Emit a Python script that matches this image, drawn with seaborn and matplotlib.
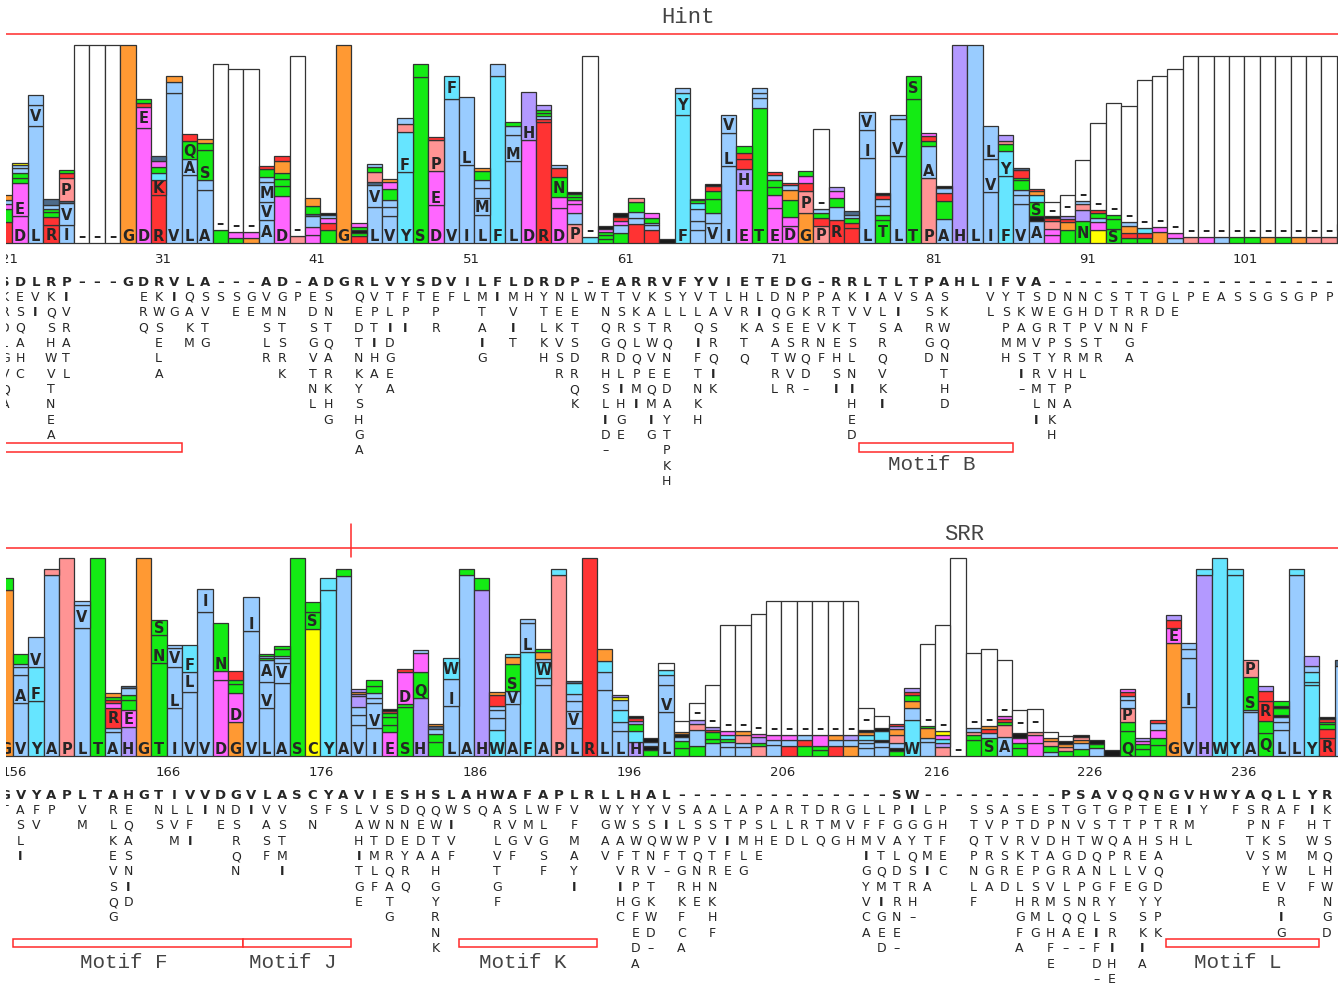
import pandas as pd
import matplotlib
matplotlib.use("Agg")
import matplotlib.pyplot as plt
from matplotlib.patches import Rectangle
import seaborn as sns

sns.set_style("white")
plt.rcParams['font.family'] = ['DejaVu Sans']

# colour class of each stack segment
residue_colors = {
    'b': '#99CCFF',  # A V L I M
    'c': '#66E5FF',  # F Y W
    'g': '#14EB14',  # S T N Q
    'm': '#FF66FF',  # D E
    'r': '#FF3333',  # K R
    'o': '#FF9933',  # G
    'p': '#FF9494',  # P
    'h': '#B399FF',  # H
    'y': '#FFFF00',  # C
    'k': '#1A1A1A',
    'n': '#4D6B8A',
    'w': '#FFFFFF',  # gap
}

# ---------------- top block: positions 21-108 ----------------
top_start = 21
top_ticks = [21, 31, 41, 51, 61, 71, 81, 91, 101]
top_consensus = "SDLRP---GDRVLA---AD-ADGRLVYSDVILFLDRDP-EARRVFYVIETEDG-RRLTLTPAHLIFVA-------------------"
top_alts = [
    "KRDLGVQA", "ESQAHC", "VI", "KQSHWVTNEA", "IVRATL", "", "", "", "", "ERQ",
    "KWSELA", "IG", "QAKM", "SVTG", "S", "SE", "GE", "VMSLR", "GNTSRK", "P",
    "EDSGVTNL", "SNTQARKHG", "", "QEDTNKYSHGA", "VPTIHA", "TLIDGEA", "FPI", "T", "EPR", "F",
    "L", "MTAIG", "I", "MVIT", "H", "YTLKH", "NEKVSR", "LETSDRQK", "W", "TNQGRHSLID-",
    "TSRQDLIHGE", "VKSLQPMI", "KATWVEQMIG", "SLRQNEDAYTPKH", "YL", "VLQIFTNKH", "TASRQIK", "LV", "HRKTQ", "LIA",
    "DQSATRL", "NGESWVR", "PKERQD-", "PRVNF", "ATKEHSI", "KVTSLNIHED", "IV", "ALSRQVKI", "VIA", "S",
    "ASRGD", "SKWQNTHD", "", "", "VL", "YSPMH", "TKAMSI-", "SWGVTRMLI", "DERPYVTNKH", "NGTSRHPA",
    "NHPSML", "CDVTR", "STN", "TRNGA", "TRF", "GD", "LE", "P", "E", "A",
    "S", "S", "G", "S", "G", "P", "P",
]
top_stacks = [
    "r21 g13 m5 b4 o5", "m27:D m33:E g5 g5 b5 b3 y2", "b117:L b21:V b10", "r18:R r8 g5 g3 b4 n6",
    "b18:I b22:V n2 p23:P r5 g3", "w198:-", "w198:-", "w198:-", "o198:G", "m115:D m21:E r4 g4",
    "r48:R r15:K c7 g6 m6 n5", "b150:V b11 o6", "b68:L b16:A g18:Q r7", "b53:A b10 g30:S g7 o4",
    "g13 w166:-", "g5 m6 w163:-", "o5 m6 w163:-", "b23:A b18:V b20:M b5 g8 r3", "m47:D g10 g7 g6 o12 r5",
    "p7 w180:-", "m8 m8 b11 n2 g8 o8", "g13 r7 m5 b3 k2", "o198:G", "r7 g3 k3 g3 m4",
    "b36:L b22:V n3 p10 g5 b3", "b27:V b9 b7 g11 m7 o3", "c71:Y c40:F p8 b6", "g166:S g13",
    "m38:D m34:E p31:P r3", "b144:V c23:F", "b78:I b68:L", "b28:L b17:M b10 b8 g9 o3", "c167:F b12",
    "b82:L b26:M b9 g4", "m103:D h48:H", "r121:R r3 b3 g3 g3 h5", "m35:D m11 g20:N r9 b3",
    "p19:P b11 m9 m4 g3 g3 k2", "c6 w181:-", "g4 g4 g3 m3 k3", "g10 b8 m4 r4 k4", "r19 b6 b6 g10 p4",
    "r13 b5 b2 g5 m5", "k4", "c128:F c22:Y b5", "b13 b9 b12 c6 g3 k1", "b20:V b10 g14 g8 r5 k2",
    "b77:I b33:L b18:V", "m53:E h21:H r10 r6 g7", "g135:T b10 b5 b5", "m35:E m13 g8 g7 b5 r3",
    "m17:D m9 g17 o10 b5 r2", "o30:G p22:P r8 m7 g5", "p17:P r8 g5 b4 w80:-", "r23:R b13 g9 m7 h4",
    "r15 r5 g5 b3 n4", "b85:L b28:I b18:V", "g23:T g5 b9 b7 r4 k2", "b87:L b37:V b4", "g144:T g23:S",
    "p65:P b32:A g5 r5 m3", "b24:A g18 r8 b5 k2", "h198:H", "b198:L", "b51:I b33:V b33:L",
    "c67:F c25:Y g7 p3 h6", "b39:V b9 b5 g10 g2 r8 n2", "b22:A k5 g14:S c7 o4 r2",
    "m8 m6 p8 r3 k2 w14:-", "g13 o8 r3 h3 w21:-", "g22:N h11 p6 b3 w41:-", "y13 m8 b4 g5 r3 w87:-",
    "g14:S g10 g4 w112:-", "g5 r5 o7 b4 w116:-", "g5 r5 c5 w148:-", "o11 m5 w151:-", "b5 m5 w164:-",
    "p6 w181:-", "m6 w181:-", "b6 w181:-", "g6 w181:-", "g6 w181:-", "o6 w181:-", "g6 w181:-",
    "o6 w181:-", "p6 w181:-", "p6 w181:-", "g13 k6",
]
top_motifs = [("", 15.5, 32.5), ("Motif B", 76.5, 86.5)]
top_regions = [("Hint", 65.4)]

# ---------------- bottom block: positions 156-243 ----------------
bottom_start = 156
bottom_ticks = [156, 166, 176, 186, 196, 206, 216, 226, 236]
bottom_consensus = "GVYAPLTAHGTIVVDGVLASCYAVIESHSLAHWAFAPLRLLHAL--------------SW---------PSAVQQNGVHWYAQLLYR"
bottom_alts = [
    "T", "ASLI", "FV", "P", "", "VM", "", "RLKEVSQG", "EQASNID", "",
    "NS", "LVM", "LFI", "I", "NE", "DSRQN", "I", "VASF", "VSTMI", "",
    "SN", "F", "S", "LAHITGE", "VWTMLF", "SNDRQATG", "DNEYRQ", "QEDA", "QWTAHGYRNK", "WIVF",
    "S", "Q", "ARLVTGF", "SVGF", "LMV", "WLGSF", "F", "VFMAYI", "", "WGAV",
    "YWAFVIHC", "YSWTRPGFEDA", "YSQNVTKWD-", "VIWF-", "SLWTGRKFCA", "ASPQNHE", "ASVTRNKHF", "LTIFE", "APMLG", "PSHE",
    "ALE", "RLD", "TRL", "DTQ", "RMG", "GVH", "LFMIGYVCA", "LFVTQMIGED", "PGALDTRNE-", "IGYQSRH-",
    "LGTMIA", "PHFEC", "", "STQPNLF", "SVTRGA", "APVSRD", "STRKELHGFA", "EDVTPSRMG", "SPDAGVMLHFE", "TNHGRLSQA-",
    "GVTDAPNQE-", "TSWQNGRLIFD-", "GTQPLFYSRIHE", "PTARLE", "TPHEVGYSKIA", "ETSAQDYPK", "ERH", "IML", "Y", "",
    "F", "SPTV", "RNKSYE", "AFSMWVRIG", "F", "IHWMLF", "KTSQHWNGD",
]
bottom_stacks = [
    "o166:G g12", "b53:V b28:A b8 b3 g10", "c55:Y c34:F b30:V", "b181:A p6", "p198:P", "b128:L b23:V b4",
    "g198:T", "b24:A b4 r20:R m5 r3 g3 o4", "h29:H m17:E g10 g5 b7 n2", "o198:G", "g93:T g28:N g15:S",
    "b48:I b41:L b19:V b3", "b64:V b20:L c27:F", "b144:V b23:I", "m76:D m9 g48:N", "o34:G m29:D g9 g4 r9",
    "b125:V b34:I", "b48:L b26:V b22:A g2 b2 g2", "b73:A b20:V b5 b2 g7 g3", "g198:S", "y127:C g17:S g10",
    "c166:Y c12", "b180:A g7", "b31:V b10 b8 h11 h2 o2 h3", "b28:I b25:V b5 b5 g7 g6", "m24:E g7 g8 g4 r2 k2",
    "g49:S g3 m32:D r3", "h58:H g26:Q m19 b3", "g14 g8 b5 n3 o2", "b50:L b27:I c21:W", "b181:A g6",
    "h166:H g12", "c26:W b12 b8 b4 r11 o3", "b52:A b13:V g27:S o7 c3", "c104:F b29:L b4",
    "b71:A b7 c16:W b3 o7 g3", "p181:P c6", "b28:L b17:V b10 b7 c11 n2", "r198:R", "b66:L b18 c11 o12",
    "b25:L b9 c12 b10 y3 h2", "h14:H c11 g7 h3 r3 k2", "g6 k4 b4 k4", "b44:L b27:V b10 c5 w7",
    "g8 g7 b4 k3 o2 w11", "g10 b16 p6 h4 w17:-", "b13 g4 g7 r2 h3 w42:-", "b9 b5 g3 c4 m4 w106:-",
    "b9 b4 p8 o4 w106:-", "p10 g3 h6 m3 w120:-", "b11 b5 m5 w134:-", "r10 b6 m5 w134:-", "g10 r6 b5 w134:-",
    "g6 g4 m11 w134:-", "r10 b6 o5 w134:-", "o10 b6 h5 w134:-", "b8 b5 b3 c5 o3 k2 w22:-",
    "b9 b5 k2 c9 k3 w12", "g5 k3 b5 p8 o6 h3 r2", "c36:W b12 o7 g6 r3 h4", "b14 b4 o10 g2 w82:-",
    "p9 h4 c4 m4 y4 w106:-", "w198:-", "g16 g5 p3 b4 w75:-", "g18:S b5 r4 o3 w77:-",
    "b19:A p12 g3 r3 m3 w56:-", "g8 g5 m5 k5 w23:-", "m13 m8 p3 w23:-", "b4 g6 p5 o3 w6", "g5 p4 o3 k3 w5",
    "g7 b6 o3 p3 k2", "b8 g4 k4", "k6", "g25:Q g9 p14:P b8 b4 r4 m3", "g7 g5 m3 h3", "g11 g7 m8 b7 r3",
    "o113:G m15:E r8 h5", "b49:V b49:I b9 b6", "h181:H c6", "c198:W", "c181:Y c6", "b44:A b2 g33:S p17:P",
    "g23:Q g12 r20:R r10 h5", "b26:L b8 b5 k2 g7 k2 g5", "b181:L c6", "c71:Y c3 c10 b6 h10",
    "r18:R r9 g5 g2 r3 k2", "b90 n6",
]
bottom_motifs = [("Motif F", 156.5, 171.5), ("Motif J", 171.5, 178.5),
                 ("Motif K", 185.5, 194.5), ("Motif L", 231.5, 241.5)]
bottom_regions = [("SRR", 218.4)]
bottom_boundary = 178.5

EDGE = '#333333'
LW = 0.9
RED = '#FF2A2A'


def parse_stack(stack):
    segs = []
    for tok in stack.split():
        lab = None
        if ':' in tok:
            tok, lab = tok.split(':')
        segs.append((tok[0], float(tok[1:]), lab))
    return segs


def draw_block(ax, start, consensus, alts, stacks, ticks, motifs, regions, ys):
    positions = list(range(start, start + len(stacks)))
    parsed = [parse_stack(s) for s in stacks]

    # bottom segment of every column through seaborn
    base = pd.DataFrame({'pos': positions,
                         'height': [p[0][1] for p in parsed],
                         'key': [str(p) for p in positions]})
    palette = {str(p): residue_colors[s[0][0]] for p, s in zip(positions, parsed)}
    sns.barplot(data=base, x='pos', y='height', hue='key', palette=palette,
                native_scale=True, width=1.0, errorbar=None, legend=False, saturation=1,
                edgecolor=EDGE, linewidth=LW, ax=ax, zorder=2)

    # remaining stacked segments + letters in the bars
    for pos, segs in zip(positions, parsed):
        bottom = 0
        for i, (code, h, lab) in enumerate(segs):
            if i > 0:
                ax.bar(pos, h, bottom=bottom, width=1.0, color=residue_colors[code],
                       edgecolor=EDGE, linewidth=LW, zorder=2)
            if lab:
                y = bottom + 2 if h >= 24 else bottom + h / 2 - 5.3
                ax.text(pos, y, '–' if lab == '-' else lab, ha='center', va='baseline',
                        fontsize=10.5, fontweight='bold', zorder=4, clip_on=True)
            bottom += h

    # position numbers
    for t in ticks:
        ax.text(t - 0.25, ys['tick'], str(t), ha='left', va='baseline', fontsize=9.5,
                color='#222222', clip_on=True)

    # consensus row and alternative residues
    for pos, c, alt in zip(positions, consensus, alts):
        ax.text(pos, ys['cons'], '–' if c == '-' else c, ha='center', va='baseline',
                fontsize=9.5, fontweight='bold', clip_on=True)
        for j, a in enumerate(alt):
            ax.text(pos, ys['alt'] - j * 15.35, '–' if a == '-' else a, ha='center',
                    va='baseline', fontsize=9,
                    fontweight='bold' if a == 'I' else 'normal', clip_on=True)

    # motif boxes
    for name, x0, x1 in motifs:
        ax.add_patch(Rectangle((x0, ys['box']), x1 - x0, 8.4, facecolor='white',
                               edgecolor=RED, linewidth=1.1, zorder=3, clip_on=True))
        if name:
            ax.text((x0 + x1) / 2 - 0.3, ys['motif'], name, ha='center', va='baseline',
                    fontsize=15, family='Liberation Mono', color='#444444', clip_on=True)

    # region line and labels
    ax.axhline(ys['line'], color=RED, linewidth=1.1, zorder=1)
    for name, x in regions:
        ax.text(x, ys['region'], name, ha='center', va='baseline', fontsize=16,
                family='Liberation Mono', color='#444444')

    ax.axis('off')


fig = plt.figure(figsize=(13.42, 9.84), dpi=100)

ax_top = fig.add_axes([6 / 1342, (984 - 490) / 984, 1332 / 1342, 490 / 984])
draw_block(ax_top, top_start, top_consensus, top_alts, top_stacks, top_ticks, top_motifs,
           top_regions, {'tick': -19.4, 'cons': -42.7, 'alt': -57.7, 'box': -208.4,
                         'motif': -226.7, 'line': 209, 'region': 220})
ax_top.set_xlim(21.084, 21.084 + 1332 / 15.4)
ax_top.set_ylim(243.3 - 490, 243.3)

ax_bot = fig.add_axes([6 / 1342, 0, 1332 / 1342, 489 / 984])
draw_block(ax_bot, bottom_start, bottom_consensus, bottom_alts, bottom_stacks, bottom_ticks,
           bottom_motifs, bottom_regions, {'tick': -19.7, 'cons': -43, 'alt': -58, 'box': -191.3,
                                           'motif': -211.7, 'line': 207.7, 'region': 216})
ax_bot.plot([bottom_boundary, bottom_boundary], [199, 232], color=RED, linewidth=1.1)
ax_bot.set_xlim(156.05, 156.05 + 1332 / 15.37)
ax_bot.set_ylim(-228, 261)

fig.savefig('out.png', dpi=100)
